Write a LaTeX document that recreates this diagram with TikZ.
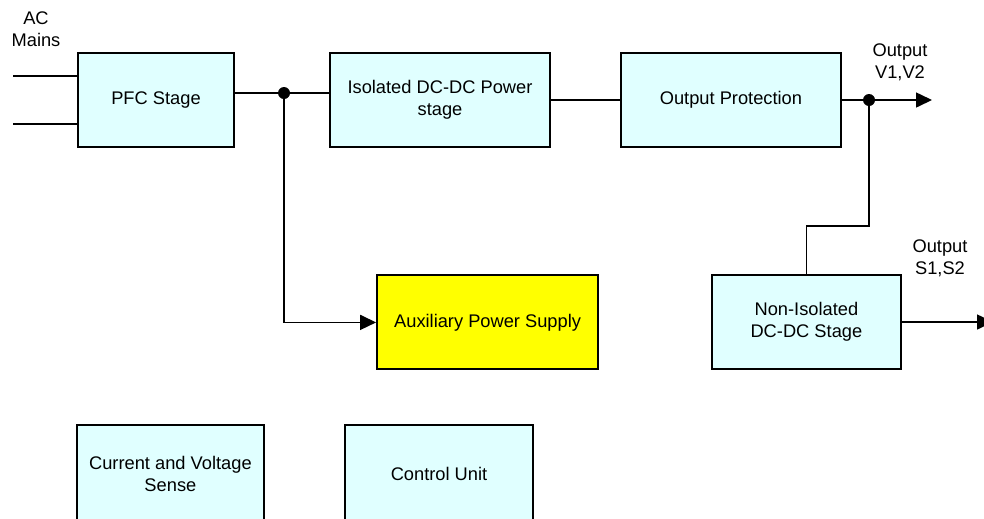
\documentclass[tikz,border=0pt]{standalone}
\usepackage{fontspec}
\setmainfont{Liberation Sans}
\usetikzlibrary{arrows.meta,positioning,calc}
\definecolor{BoxCyan}{HTML}{E0FFFF}
\definecolor{AuxYellow}{HTML}{FFFF00}

\begin{document}
\begin{tikzpicture}[node distance=2.35cm,
    block/.style={draw=black, line width=1.4pt, fill=BoxCyan, minimum height=2.35cm, align=center, font={\fontsize{13}{15.6}\selectfont}},
    wire/.style={line width=1.1pt},
    feed/.style={-{Triangle[length=0.4cm, width=0.375cm]}},
    lbl/.style={align=center, font={\fontsize{13}{15.6}\selectfont}},
    dot/.style={circle, fill=black, inner sep=0pt, minimum size=0.3cm}]
    \useasboundingbox (0,0) rectangle (24.6,-12.95);
    \node[block, minimum width=3.9cm] (pfc) at (3.9,-2.5) {PFC Stage};
    \node[block, minimum width=5.5cm, right=of pfc] (iso) {Isolated DC-DC Power\\stage};
    \node[block, minimum width=5.5cm, right=1.725cm of iso] (prot) {Output Protection};
    \node[block, fill=AuxYellow, minimum width=5.525cm] (aux) at (12.19,-8.06) {Auxiliary Power Supply};
    \node[block, minimum width=4.725cm] (noniso) at (20.16,-8.05) {Non-Isolated\\DC-DC Stage};
    \node[block, minimum width=4.675cm, minimum height=2.45cm] (sense) at (4.26,-11.85) {Current and Voltage\\Sense};
    \node[block, minimum width=4.7cm, minimum height=2.45cm] (ctrl) at (10.975,-11.85) {Control Unit};

    % labels
    \node[lbl] (acin) at (0.9,-0.725) {AC\\Mains};
    \node[lbl] (outv) at (22.5,-1.55) {Output\\V1,V2};
    \node[lbl] (outs) at (23.5,-6.45) {Output\\S1,S2};

    % junctions and free ends
    \node[dot] (ja) at (7.1,-2.325) {};
    \node[dot] (jb) at (21.725,-2.5) {};
    \coordinate (ac1) at (0.325,-1.9);
    \coordinate (ac2) at (0.325,-3.1);
    \coordinate (out1) at (23.3,-2.5);
    \coordinate (out2) at (24.825,-8.05);

    \draw[wire] (ac1) -- (ac1 -| pfc.west);
    \draw[wire] (ac2) -- (ac2 -| pfc.west);
    \draw[wire] (pfc.east |- ja) -- (ja.center) -- (iso.west |- ja);
    \draw[wire] (iso.east) -- (prot.west);
    \draw[wire, feed] (prot.east) -- (jb.center) -- (out1);
    \draw[wire] (jb.center) |- ($(noniso.north)+(0,1.2)$) -- (noniso.north);
    \draw[wire, feed] (ja.center) |- (aux.west);
    \draw[wire, feed] (noniso.east) -- (out2);
\end{tikzpicture}
\end{document}
